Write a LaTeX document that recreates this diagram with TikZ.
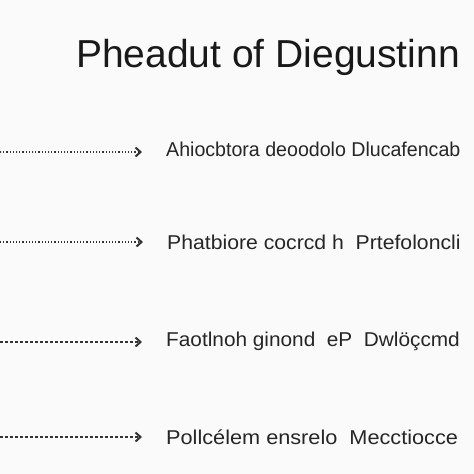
\documentclass[tikz,border=0pt]{standalone}
\usepackage{fontspec}
\setmainfont{Liberation Sans}
\usepackage{tikz}
\usetikzlibrary{arrows.meta,positioning}

\begin{document}
\begin{tikzpicture}[x=1pt,y=-1pt,
	rowtext/.style={anchor=west,inner sep=0pt,text=black!85,font=\fontsize{20}{20}\selectfont},
	lead/.style={very thick,black!80,-{Straight Barb[length=5pt,width=9pt,line width=2pt]},shorten >=24pt}]
	%Draws the page
	\useasboundingbox[fill=black!2] (0,0) rectangle (474,474);

	%Draws the heading
	\node[inner sep=0pt,text=black!90,font=\fontsize{39}{39}\selectfont] (head) at (268,57) {Pheadut of Diegustinn};

	%Draws the four rows of text
	\node[rowtext] (t1) at (166,149) {\scalebox{0.98}[1]{Ahiocbtora deoodolo Dlucafencab}};
	\node[rowtext] (t2) at (167,242) {\scalebox{1.06}[1]{Phatbiore cocrcd h \ Prtefoloncli}};
	\node[rowtext] (t3) at (166,341) {\scalebox{1.04}[1]{Faotlnoh ginond \ eP \ Dwlöçcmd}};
	\node[rowtext] (t4) at (166,437) {\scalebox{1.085}[1]{Pollcélem ensrelo \ Mecctiocce}};

	%Draws the leaders to the rows
	\coordinate (s1) at (0,152);
	\coordinate (s2) at (0,242);
	\coordinate (s3) at (0,342);
	\coordinate (s4) at (0,437);
	\draw[lead,dotted] (s1) -- (s1 -| t1.west);
	\draw[lead,dotted] (s2) -- (s2 -| t2.west);
	\draw[lead,densely dashed] (s3) -- (s3 -| t3.west);
	\draw[lead,densely dashed] (s4) -- (s4 -| t4.west);
\end{tikzpicture}
\end{document}
